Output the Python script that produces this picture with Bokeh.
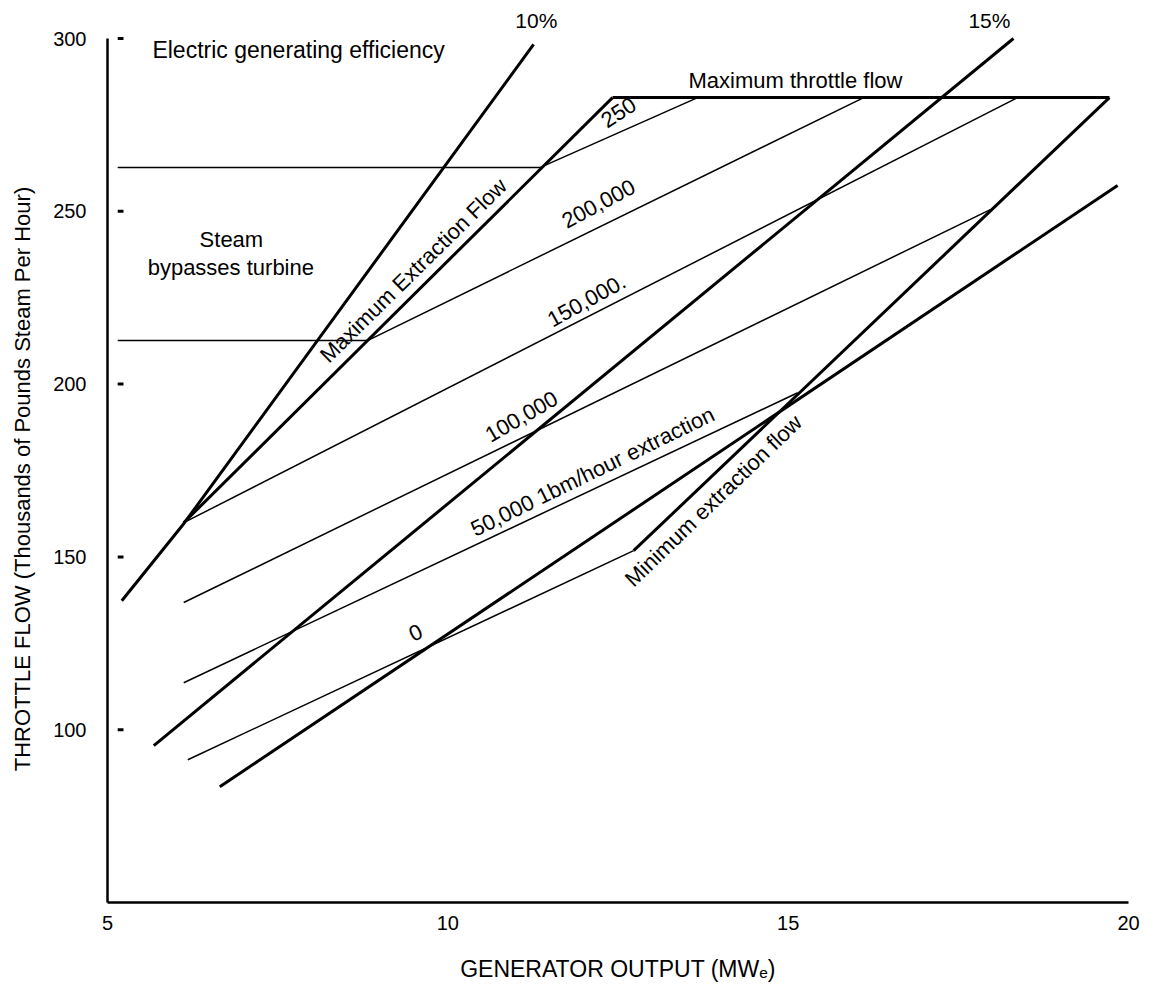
import math
from bokeh.plotting import figure
from bokeh.models import Range1d, FixedTicker
from bokeh.core.properties import value
from bokeh.embed import file_html
from bokeh.resources import INLINE

# ---------------- data ----------------
x_ticks = [5, 10, 15, 20]
y_ticks = [100, 150, 200, 250, 300]

# efficiency lines
eff10_x = [5.21, 6.12, 11.26]
eff10_y = [137.3, 159.6, 298.3]
eff15_x = [5.68, 18.31]
eff15_y = [95.4, 300.0]

# boundaries
max_extraction_x = [6.12, 12.42]
max_extraction_y = [159.9, 282.9]
max_throttle_x = [12.42, 19.72]
max_throttle_y = [282.9, 282.9]
min_extraction_x = [12.73, 19.72]
min_extraction_y = [151.8, 282.9]
zero_thick_x = [6.65, 19.84]
zero_thick_y = [83.5, 257.5]

# steam bypass levels
bypass_hi_x = [5.15, 11.36]
bypass_hi_y = [262.7, 262.7]
bypass_lo_x = [5.15, 8.82]
bypass_lo_y = [212.6, 212.6]

# constant-extraction lines (lbm/hour)
ext250_x = [11.36, 13.67]
ext250_y = [262.7, 282.9]
ext200_x = [8.82, 16.11]
ext200_y = [212.6, 282.9]
ext150_x = [6.12, 18.37]
ext150_y = [159.9, 282.9]
ext100_x = [6.12, 17.97]
ext100_y = [136.8, 250.5]
ext50_x = [6.12, 15.14]
ext50_y = [113.6, 197.5]
ext0_x = [6.18, 12.73]
ext0_y = [91.3, 151.8]

FONT = "Liberation Sans"

p = figure(width=1158, height=985,
           x_range=Range1d(5, 20), y_range=Range1d(50, 311),
           output_backend="svg", toolbar_location=None,
           min_border_left=107, min_border_top=0, min_border_right=30,
           min_border_bottom=83, outline_line_color=None,
           background_fill_color="white", border_fill_color="white")
p.grid.visible = False

for ax in (p.xaxis[0], p.yaxis[0]):
    ax.axis_line_width = 2.5
    ax.axis_line_color = "black"
    ax.major_tick_in = 0
    ax.major_tick_out = 0
    ax.minor_tick_line_color = None
    ax.major_tick_line_color = None
    ax.major_label_text_font = FONT
    ax.major_label_text_font_size = "20px"
    ax.major_label_text_color = "black"
    ax.axis_label_text_font = FONT
    ax.axis_label_text_font_style = "normal"
    ax.axis_label_text_color = "black"

p.yaxis.bounds = (50, 300)
p.xaxis.ticker = FixedTicker(ticks=x_ticks)
p.yaxis.ticker = FixedTicker(ticks=y_ticks)
p.xaxis.major_label_standoff = 13
p.yaxis.major_label_standoff = 21
p.xaxis.axis_label = "GENERATOR OUTPUT (MW\u2091)"
p.xaxis.axis_label_text_font_size = "23px"
p.xaxis.axis_label_standoff = 23
# trailing no-break spaces move the centred label a little down the axis
p.yaxis.axis_label = "THROTTLE FLOW (Thousands of Pounds Steam Per Hour)" + "\u00a0" * 9
p.yaxis.axis_label_text_font_size = "22px"
p.yaxis.axis_label_standoff = 15

# small y tick dashes drawn just inside the axis
p.segment(x0=[5.15] * len(y_ticks), x1=[5.235] * len(y_ticks),
          y0=y_ticks, y1=y_ticks, line_color="black", line_width=3)

THICK = 3
THIN = 1.5
for xs, ys, w in [
    (eff10_x, eff10_y, THICK),
    (eff15_x, eff15_y, THICK),
    (max_extraction_x, max_extraction_y, THICK),
    (max_throttle_x, max_throttle_y, THICK),
    (min_extraction_x, min_extraction_y, THICK),
    (zero_thick_x, zero_thick_y, THICK),
    (bypass_hi_x, bypass_hi_y, THIN),
    (bypass_lo_x, bypass_lo_y, THIN),
    (ext250_x, ext250_y, THIN),
    (ext200_x, ext200_y, THIN),
    (ext150_x, ext150_y, THIN),
    (ext100_x, ext100_y, THIN),
    (ext50_x, ext50_y, THIN),
    (ext0_x, ext0_y, THIN),
]:
    p.line(xs, ys, line_color="black", line_width=w)


def txt(x, y, s, angle_deg=0, align="center", size="22px"):
    p.text(x=[x], y=[y], text=[s], angle=math.radians(angle_deg),
           text_align=align, text_baseline="middle",
           text_font=value(FONT), text_font_size=size, text_color="black")


txt(5.66, 296.8, "Electric generating efficiency", align="left", size="23px")
txt(13.535, 287.8, "Maximum throttle flow", align="left")
txt(6.82, 241.8, "Steam")
txt(5.59, 233.7, "bypasses turbine", align="left")
txt(9.495, 232.9, "Maximum Extraction Flow", 44.5)
txt(12.507, 278.6, "250", 33)
txt(12.213, 252.2, "200,000", 28)
txt(12.037, 224.2, "150,000.", 29)
txt(11.082, 190.6, "100,000", 30)
txt(12.125, 174.7, "50,000 1bm/hour extraction", 26)
txt(9.525, 128.1, "0", 25)
txt(13.903, 166.3, "Minimum extraction flow", 44)
txt(11.30, 305.2, "10%", size="21px")
txt(17.957, 305.2, "15%", size="21px")

open("out.html", "w").write(file_html(p, INLINE))
